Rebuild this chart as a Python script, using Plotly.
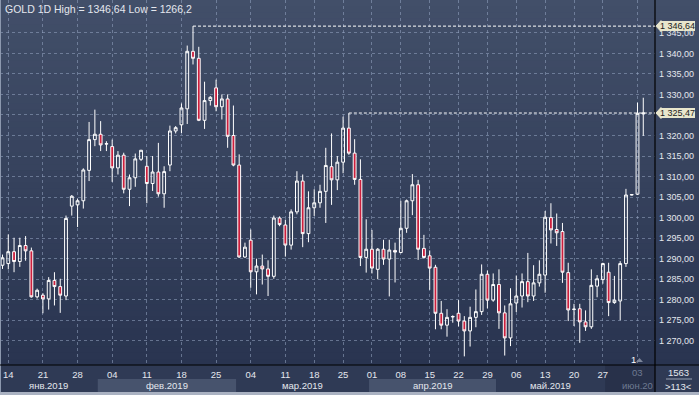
import plotly.graph_objects as go

# ---------------- data ----------------
opens = [1288.4, 1288.8, 1291.7, 1289.3, 1293.2, 1291.9, 1280.7, 1281.1, 1280.2, 1284.7,
         1283.2, 1280.9, 1302.8, 1303.1, 1304.1, 1311.5, 1319.0, 1320.3, 1317.9, 1317.3,
         1312.1, 1315.2, 1306.9, 1309.7, 1314.2, 1312.5, 1308.3, 1311.1, 1305.8, 1312.8,
         1321.1, 1322.6, 1326.5, 1340.5, 1338.8, 1323.7, 1328.5, 1331.6, 1327.0, 1328.9,
         1320.0, 1312.8, 1290.4, 1294.5, 1286.8, 1288.2, 1287.5, 1285.7, 1299.9, 1298.2,
         1293.3, 1301.4, 1308.9, 1296.1, 1302.4, 1303.6, 1306.4, 1312.4, 1309.2, 1313.5,
         1321.8, 1315.7, 1309.3, 1290.3, 1292.3, 1287.4, 1292.3, 1289.9, 1292.0, 1291.5,
         1297.4, 1304.1, 1308.0, 1292.5, 1290.7, 1287.9, 1276.7, 1273.8, 1275.8, 1276.7,
         1274.8, 1272.4, 1275.7, 1277.1, 1286.2, 1279.9, 1283.7, 1276.8, 1270.7, 1279.2,
         1280.9, 1284.4, 1280.9, 1284.1, 1286.0, 1300.0, 1297.1, 1296.6, 1286.6, 1277.6,
         1277.8, 1274.6, 1273.4, 1283.3, 1284.9, 1286.7, 1279.3, 1279.7, 1288.8, 1305.5,
         1305.7, 1325.3]
highs = [1291.0, 1295.9, 1295.1, 1295.1, 1295.5, 1292.7, 1282.7, 1281.6, 1285.5, 1286.7,
         1285.1, 1300.5, 1305.5, 1304.6, 1312.0, 1323.3, 1326.3, 1323.5, 1318.6, 1319.0,
         1316.2, 1315.8, 1310.5, 1315.6, 1316.5, 1315.0, 1315.0, 1318.2, 1312.5, 1322.4,
         1322.3, 1327.8, 1341.9, 1346.64, 1341.6, 1333.1, 1329.6, 1333.6, 1330.0, 1330.0,
         1327.3, 1315.4, 1293.9, 1297.1, 1290.0, 1291.0, 1289.6, 1300.5, 1300.3, 1299.5,
         1302.0, 1311.3, 1310.5, 1306.4, 1306.9, 1308.0, 1317.0, 1320.5, 1315.0, 1324.6,
         1325.47, 1319.1, 1314.2, 1299.6, 1297.0, 1292.6, 1294.6, 1294.6, 1293.9, 1304.1,
         1304.4, 1310.6, 1309.2, 1295.8, 1292.0, 1288.5, 1279.7, 1277.7, 1276.2, 1279.9,
         1276.0, 1278.3, 1282.5, 1288.6, 1287.1, 1286.4, 1287.4, 1278.6, 1282.8, 1285.9,
         1286.4, 1291.4, 1288.4, 1289.6, 1301.6, 1303.5, 1301.0, 1298.7, 1289.0, 1279.0,
         1279.0, 1277.4, 1287.4, 1286.0, 1289.0, 1289.0, 1285.8, 1289.4, 1307.0, 1305.7,
         1328.0, 1329.2]
lows = [1287.5, 1287.4, 1286.7, 1288.0, 1289.5, 1280.5, 1280.3, 1276.7, 1277.6, 1278.6,
        1276.8, 1279.9, 1300.5, 1297.7, 1302.2, 1308.9, 1317.4, 1316.2, 1316.2, 1308.7,
        1310.5, 1305.9, 1302.8, 1307.5, 1313.8, 1303.5, 1306.5, 1305.1, 1302.4, 1311.3,
        1320.5, 1320.6, 1322.8, 1337.3, 1323.5, 1321.6, 1327.3, 1325.9, 1323.9, 1317.0,
        1312.5, 1290.2, 1290.2, 1282.9, 1281.3, 1283.7, 1280.9, 1285.1, 1297.9, 1290.5,
        1292.2, 1300.8, 1292.8, 1294.0, 1300.4, 1302.4, 1298.7, 1303.1, 1306.7, 1310.8,
        1315.3, 1308.0, 1288.2, 1286.6, 1286.4, 1285.0, 1288.5, 1280.8, 1284.2, 1291.3,
        1296.3, 1300.6, 1289.7, 1290.0, 1282.4, 1272.8, 1272.8, 1271.0, 1274.4, 1273.5,
        1266.2, 1268.6, 1273.3, 1276.3, 1277.9, 1279.5, 1272.9, 1266.4, 1268.7, 1277.0,
        1278.1, 1279.4, 1279.7, 1283.2, 1281.7, 1293.7, 1293.1, 1284.1, 1274.8, 1273.6,
        1269.5, 1272.4, 1272.9, 1280.6, 1283.9, 1276.0, 1279.0, 1275.0, 1288.0, 1305.4,
        1305.5, 1319.9]
closes = [1290.2, 1291.7, 1289.3, 1293.2, 1291.9, 1280.7, 1282.3, 1280.2, 1284.7, 1283.2,
          1281.1, 1299.8, 1305.2, 1304.1, 1311.6, 1319.0, 1320.3, 1317.7, 1318.0, 1312.1,
          1315.2, 1306.9, 1309.7, 1314.3, 1316.4, 1308.3, 1311.1, 1305.8, 1311.2, 1321.1,
          1321.9, 1326.7, 1340.5, 1338.8, 1323.7, 1328.5, 1329.3, 1327.0, 1328.9, 1319.8,
          1312.8, 1290.4, 1292.8, 1286.8, 1288.2, 1287.5, 1285.7, 1299.9, 1298.3, 1293.3,
          1301.4, 1308.9, 1296.1, 1302.4, 1303.6, 1306.4, 1312.7, 1309.2, 1313.5, 1321.8,
          1315.7, 1309.3, 1290.3, 1292.3, 1287.7, 1292.3, 1289.9, 1292.1, 1291.6, 1297.4,
          1304.1, 1308.0, 1292.3, 1290.3, 1287.7, 1276.7, 1273.8, 1275.7, 1275.9, 1274.8,
          1272.4, 1275.7, 1277.1, 1286.2, 1279.9, 1283.7, 1276.8, 1270.7, 1279.0, 1280.9,
          1284.4, 1280.9, 1284.1, 1286.2, 1300.1, 1297.0, 1296.3, 1286.7, 1277.5, 1277.7,
          1274.6, 1273.4, 1283.5, 1285.1, 1288.8, 1279.3, 1279.9, 1288.8, 1305.5, 1305.6,
          1325.4, 1325.47]
bar_index = list(range(1, len(opens) + 1))

day_tick_index = [2, 8, 14, 20, 26, 32, 38, 44, 50, 55, 60, 65, 70, 75, 80, 85, 90, 95, 100, 105, 111]
day_tick_labels = ["14", "21", "28", "04", "11", "18", "25", "04", "11", "18", "25",
                   "01", "08", "15", "22", "29", "06", "13", "20", "27", "03"]

month_labels = ["янв.2019", "фев.2019", "мар.2019", "апр.2019", "май.2019"]
month_start_index = [0.57, 17.5, 41.5, 64.5, 86.5]
month_end_index = [17.5, 41.5, 64.5, 86.5, 105.4]

price_ticks = [1270, 1275, 1280, 1285, 1290, 1295, 1300, 1305, 1310, 1315, 1320, 1325, 1330, 1335, 1340, 1345]
hidden_price_ticks = [1325]  # covered by the last-price tag in the reference
high_value, high_index = 1346.64, 34
last_value, last_ref_index = 1325.47, 61
low_value = 1266.2
title_text = "GOLD 1D High = 1346,64 Low = 1266,2"

# ---------------- layout geometry ----------------
W, H = 699, 395
ML, MR, MT, MB = 0, 44, 0, 30
PW, PH = W - ML - MR, H - MT - MB
XR = [0.567, 114.03]
YR = [1264.1, 1353.0]
FONT = "Liberation Sans"


def fmt_price(v):
    s = f"{v:,.2f}"
    return s.replace(",", " ").replace(".", ",")


def xp(i):
    return (i - XR[0]) / (XR[1] - XR[0])


def px_x(p):  # pixel -> paper x
    return (p - ML) / PW


def px_y(p):  # pixel -> paper y
    return (MT + PH - p) / PH


fig = go.Figure()
fig.add_trace(go.Candlestick(
    x=bar_index, open=opens, high=highs, low=lows, close=closes,
    increasing=dict(line=dict(color="#ffffff", width=1), fillcolor="rgba(0,0,0,0)"),
    decreasing=dict(line=dict(color="#ffffff", width=1), fillcolor="#cc1f3d"),
    hoverinfo="skip", showlegend=False,
))

shapes = []
# gradient background (plot + right axis area)
N = 60
top_c = (66, 79, 105)
bot_c = (41, 52, 80)
for k in range(N):
    t = (k + 0.5) / N
    c = tuple(int(round(top_c[j] + (bot_c[j] - top_c[j]) * t)) for j in range(3))
    shapes.append(dict(type="rect", xref="paper", yref="paper",
                       x0=0, x1=px_x(W), y0=1 - (k + 1) / N - 0.002, y1=1 - k / N,
                       fillcolor=f"rgb{c}", line=dict(width=0), layer="below"))

# bottom axis background rows
shapes.append(dict(type="rect", xref="paper", yref="paper", x0=0, x1=px_x(W),
                   y0=px_y(392), y1=px_y(365), fillcolor="#2f3a55", line=dict(width=0), layer="below"))
band_colors = ["#2f3a55", "#47536d"]
for k, (a, b) in enumerate(zip(month_start_index, month_end_index)):
    shapes.append(dict(type="rect", xref="paper", yref="paper", x0=xp(a), x1=xp(b),
                       y0=px_y(392), y1=px_y(379), fillcolor=band_colors[k % 2],
                       line=dict(width=0), layer="below"))
# dark cursor box over the last week
shapes.append(dict(type="rect", xref="paper", yref="paper", x0=xp(105.4), x1=1,
                   y0=px_y(392), y1=px_y(365), fillcolor="#28314a", line=dict(width=0), layer="below"))
# bottom border strip
shapes.append(dict(type="rect", xref="paper", yref="paper", x0=0, x1=px_x(W),
                   y0=px_y(395), y1=px_y(392), fillcolor="#aab2c2", line=dict(width=0), layer="above"))
# left border
shapes.append(dict(type="line", xref="paper", yref="paper", x0=px_x(0.5), x1=px_x(0.5),
                   y0=px_y(392), y1=1, line=dict(color="#8c98ae", width=1), layer="above"))
# axis lines (black)
shapes.append(dict(type="line", xref="paper", yref="paper", x0=1, x1=1,
                   y0=px_y(392), y1=1, line=dict(color="#000000", width=1.2), layer="above"))
shapes.append(dict(type="line", xref="paper", yref="paper", x0=0, x1=px_x(W),
                   y0=0, y1=0, line=dict(color="#000000", width=1.2), layer="above"))
# separator in the bottom right box
shapes.append(dict(type="line", xref="paper", yref="paper", x0=px_x(666), x1=px_x(692),
                   y0=px_y(379), y1=px_y(379), line=dict(color="#9aa3b5", width=1), layer="above"))
# dashed level lines
shapes.append(dict(type="line", xref="x", yref="y", x0=high_index, x1=XR[1],
                   y0=high_value, y1=high_value, line=dict(color="#ffffff", width=1, dash="3px,2px")))
shapes.append(dict(type="line", xref="x", yref="y", x0=last_ref_index, x1=XR[1],
                   y0=last_value, y1=last_value, line=dict(color="#ffffff", width=1, dash="3px,2px")))
# tag arrows
for v in (high_value, last_value):
    yy = (v - YR[0]) / (YR[1] - YR[0])
    d = 5.5 / PH
    shapes.append(dict(type="path", xref="paper", yref="paper",
                       path=f"M {px_x(656)} {yy} L {px_x(661)} {yy + d} L {px_x(661)} {yy - d} Z",
                       fillcolor="#e8e6cc", line=dict(color="#e8e6cc", width=1), layer="above"))
# small marker triangle near "1"
shapes.append(dict(type="path", xref="paper", yref="paper",
                   path=f"M {px_x(636)} {px_y(362)} L {px_x(643)} {px_y(362)} L {px_x(639.5)} {px_y(358)} Z",
                   fillcolor="#7d869a", line=dict(width=0), layer="above"))

annotations = []
annotations.append(dict(text=title_text,
                        xref="paper", yref="paper", x=px_x(3), y=px_y(9), xanchor="left", yanchor="middle",
                        showarrow=False, font=dict(family=FONT, size=10.5, color="#e4e7ee")))
for v in (high_value, last_value):
    annotations.append(dict(text=fmt_price(v), xref="paper", yref="y", x=px_x(660), y=v,
                            xanchor="left", yanchor="middle", showarrow=False,
                            bgcolor="#e8e6cc", borderpad=0, borderwidth=0,
                            font=dict(family=FONT, size=9, color="#1c1c1c")))
for lab, a, b in zip(month_labels, month_start_index, month_end_index):
    annotations.append(dict(text=lab, xref="paper", yref="paper", x=(xp(a) + xp(b)) / 2, y=px_y(385.5),
                            xanchor="center", yanchor="middle", showarrow=False,
                            font=dict(family=FONT, size=9.5, color="#e4e7ee")))
annotations.append(dict(text=day_tick_labels[-1], xref="paper", yref="paper", x=xp(day_tick_index[-1]),
                        y=px_y(373), xanchor="center", yanchor="middle", showarrow=False,
                        font=dict(family=FONT, size=9.5, color="#6e7a92")))
annotations.append(dict(text="июн.20", xref="paper", yref="paper", x=1, y=px_y(385.5),
                        xanchor="right", yanchor="middle", showarrow=False,
                        font=dict(family=FONT, size=9.5, color="#6e7a92")))
annotations.append(dict(text="1", xref="paper", yref="paper", x=px_x(633), y=px_y(359),
                        xanchor="center", yanchor="middle", showarrow=False,
                        font=dict(family=FONT, size=9.5, color="#ffffff")))
annotations.append(dict(text="1563", xref="paper", yref="paper", x=px_x(678), y=px_y(372),
                        xanchor="center", yanchor="middle", showarrow=False,
                        font=dict(family=FONT, size=9.5, color="#e4e7ee")))
annotations.append(dict(text="&gt;113&lt;", xref="paper", yref="paper", x=px_x(678), y=px_y(386),
                        xanchor="center", yanchor="middle", showarrow=False,
                        font=dict(family=FONT, size=9.5, color="#e4e7ee")))

grid_color = "rgba(150,165,195,0.55)"
fig.update_layout(
    template="none",
    width=W, height=H, autosize=False,
    margin=dict(l=ML, r=MR, t=MT, b=MB, pad=0, autoexpand=False),
    paper_bgcolor="#2f3a55", plot_bgcolor="#36425e",
    shapes=shapes, annotations=annotations,
    showlegend=False, hovermode=False,
    xaxis=dict(range=XR, tickmode="array", tickvals=day_tick_index,
               ticktext=day_tick_labels[:-1] + [""], automargin=False,
               showgrid=True, gridcolor=grid_color, griddash="3px,3px", gridwidth=1,
               zeroline=False, showline=False, ticks="", rangeslider=dict(visible=False),
               tickfont=dict(family=FONT, size=9.5, color="#e4e7ee"),
               ticklabelstandoff=2),
    yaxis=dict(range=YR, side="right", tickmode="array", tickvals=price_ticks,
               ticktext=["" if v in hidden_price_ticks else fmt_price(v) for v in price_ticks],
               automargin=False,
               showgrid=True, gridcolor=grid_color, griddash="3px,3px", gridwidth=1,
               zeroline=False, showline=False, ticks="",
               tickfont=dict(family=FONT, size=9, color="#e4e7ee"),
               ticklabelstandoff=3),
)

fig.write_html("out.html", config={"displayModeBar": False},
               post_script="document.body.style.margin='0';document.body.style.overflow='hidden';")
